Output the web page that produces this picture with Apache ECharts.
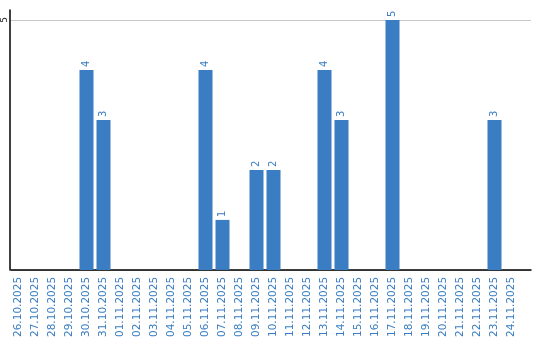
<!DOCTYPE html>
<html><head><meta charset="utf-8">
<script src="https://cdn.jsdelivr.net/npm/echarts@6/dist/echarts.min.js"></script>
<style>html,body{margin:0;padding:0;background:#fff}#c{width:540px;height:340px}</style>
</head><body><div id="c"></div>
<script>
var categories = ['26.10.2025','27.10.2025','28.10.2025','29.10.2025','30.10.2025','31.10.2025','01.11.2025','02.11.2025','03.11.2025','04.11.2025','05.11.2025','06.11.2025','07.11.2025','08.11.2025','09.11.2025','10.11.2025','11.11.2025','12.11.2025','13.11.2025','14.11.2025','15.11.2025','16.11.2025','17.11.2025','18.11.2025','19.11.2025','20.11.2025','21.11.2025','22.11.2025','23.11.2025','24.11.2025'];
var values = [null,null,null,null,4,3,null,null,null,null,null,4,1,null,2,2,null,null,4,3,null,null,5,null,null,null,null,null,3,null];
var yTicks = [5];

var blue = '#3a7dc2';
var chart = echarts.init(document.getElementById('c'), null, {renderer:'canvas'});
chart.setOption({
  animation: false,
  grid: [
    {left: 10, right: 9, top: 20, bottom: 70},
    {left: 10, right: 20, top: 10, bottom: 70}
  ],
  xAxis: [
    {gridIndex: 0, type: 'value', min: 0, max: 1, axisLine: {show: true, lineStyle: {color: '#000', width: 1.5}},
     axisTick: {show: false}, axisLabel: {show: false}, splitLine: {show: false}},
    {gridIndex: 1, type: 'category', data: categories, axisLine: {show: false}, axisTick: {show: false},
     axisLabel: {interval: 0, rotate: 90, color: blue, fontFamily: 'DejaVu Sans', fontSize: 10.5, margin: 7}}
  ],
  yAxis: [
    {gridIndex: 0, type: 'value', min: 0, max: yTicks[0], interval: yTicks[0],
     axisLine: {show: false}, axisTick: {show: false},
     axisLabel: {showMinLabel: false, rotate: 90, color: '#222', fontFamily: 'DejaVu Sans', fontSize: 9, margin: 2},
     splitLine: {show: true, lineStyle: {color: '#c8c8c8', width: 1}}},
    {gridIndex: 1, type: 'value', min: 0, max: 5.2,
     axisLine: {show: true, lineStyle: {color: '#000', width: 1.5}}, axisTick: {show: false},
     axisLabel: {show: false}, splitLine: {show: false}}
  ],
  series: [{
    type: 'bar', xAxisIndex: 1, yAxisIndex: 1, data: values, barWidth: 14,
    itemStyle: {color: blue},
    label: {show: true, position: 'top', rotate: 90, align: 'left', verticalAlign: 'middle', distance: 3,
            color: blue, fontFamily: 'DejaVu Sans', fontSize: 10}
  }]
});
</script></body></html>
